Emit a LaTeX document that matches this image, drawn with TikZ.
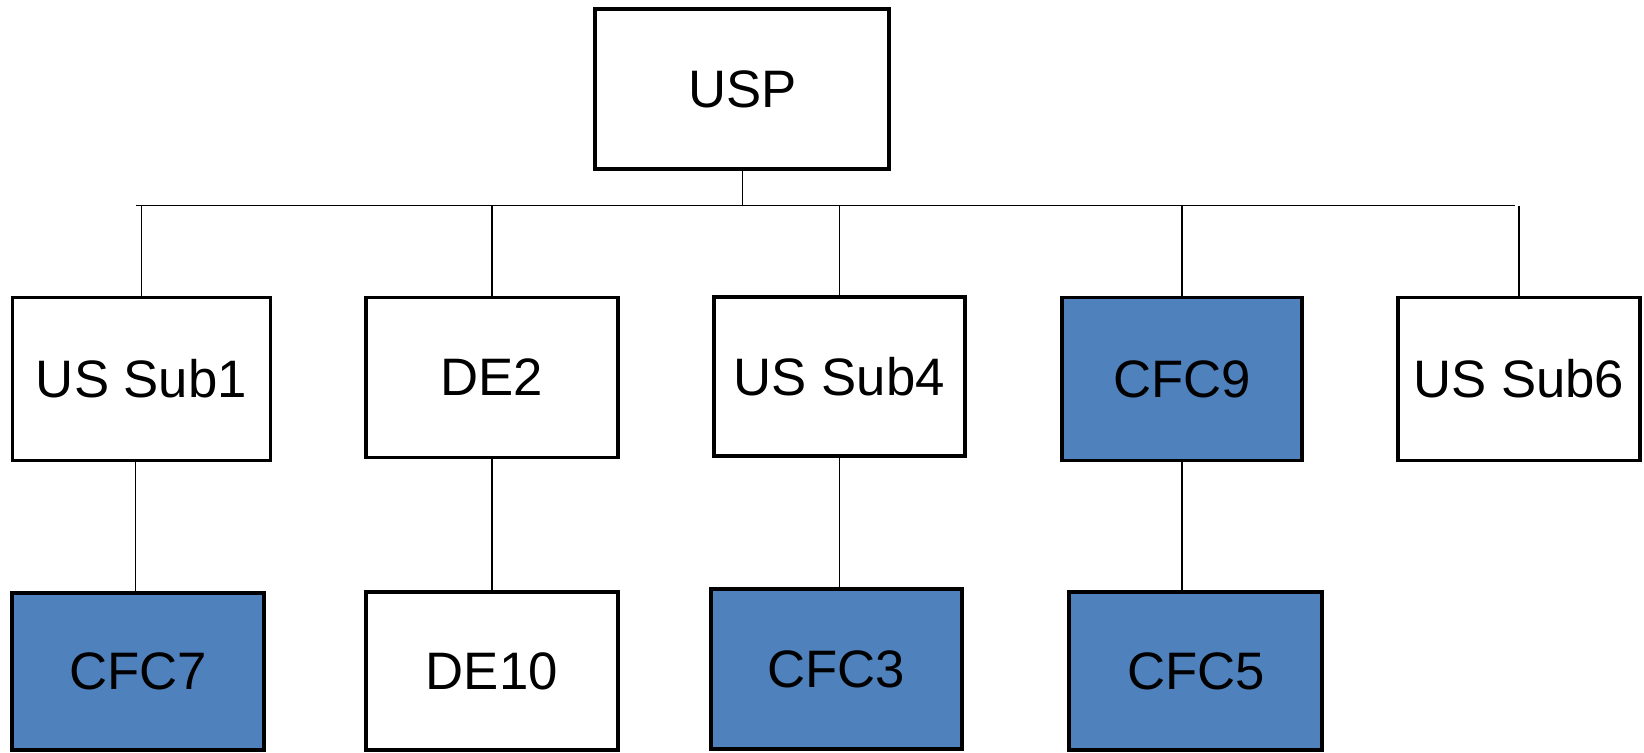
\documentclass[tikz,border=0pt]{standalone}
\usepackage{fontspec}
\setmainfont{Liberation Sans}
\definecolor{cfcblue}{HTML}{4F81BD}
\begin{document}
\begin{tikzpicture}[
    box/.style={
      rectangle,
      draw=black,
      line width=1.1pt,
      inner sep=0pt,
      fill=white,
      text centered,
      font=\fontsize{15}{18}\selectfont
    },
    cfc/.style={
      box,
      fill=cfcblue
    },
    link/.style={
      draw=black,
      line width=0.45pt
    }
  ]

    \useasboundingbox (0,0) rectangle (16.44,7.52);

    % Top node
    \node[box, minimum width=2.94cm, minimum height=1.6cm] (usp) at (7.424,6.628) {USP};

    % Row 1
    \node[box, minimum width=2.58cm, minimum height=1.63cm] (sub1) at (1.415,3.73) {US Sub1};
    \node[box, minimum width=2.52cm, minimum height=1.60cm] (de2) at (4.918,3.745) {DE2};
    \node[box, minimum width=2.51cm, minimum height=1.59cm] (sub4) at (8.394,3.751) {US Sub4};
    \node[cfc, minimum width=2.40cm, minimum height=1.63cm] (cfc9) at (11.822,3.73) {CFC9};
    \node[box, minimum width=2.42cm, minimum height=1.63cm] (sub6) at (15.188,3.73) {US Sub6};

    % Row 2
    \node[cfc, minimum width=2.52cm, minimum height=1.57cm] (cfc7) at (1.384,0.803) {CFC7};
    \node[box, minimum width=2.52cm, minimum height=1.58cm] (de10) at (4.918,0.808) {DE10};
    \node[cfc, minimum width=2.51cm, minimum height=1.60cm] (cfc3) at (8.362,0.83) {CFC3};
    \node[cfc, minimum width=2.53cm, minimum height=1.58cm] (cfc5) at (11.959,0.808) {CFC5};

    % Bar under the top node
    \coordinate (barL) at (1.363,5.465);
    \coordinate (barR) at (15.15,5.465);
    \draw[link] (barL) -- (barR);
    \draw[link] (usp.south) -- (usp.south |- barL);

    % Stubs from the bar
    \draw[link] (sub1.north) -- (sub1.north |- barL);
    \draw[link] (de2.north) -- (de2.north |- barL);
    \draw[link] (sub4.north) -- (sub4.north |- barL);
    \draw[link] (cfc9.north) -- (cfc9.north |- barL);
    \draw[link] (sub6.north) -- (sub6.north |- barL);

    % Lower links
    \draw[link] ([xshift=-0.06cm]sub1.south) -- ([xshift=-0.06cm]sub1.south |- cfc7.north);
    \draw[link] (de2.south) -- (de2.south |- de10.north);
    \draw[link] (sub4.south) -- (sub4.south |- cfc3.north);
    \draw[link] (cfc9.south) -- (cfc9.south |- cfc5.north);

  \end{tikzpicture}
\end{document}
